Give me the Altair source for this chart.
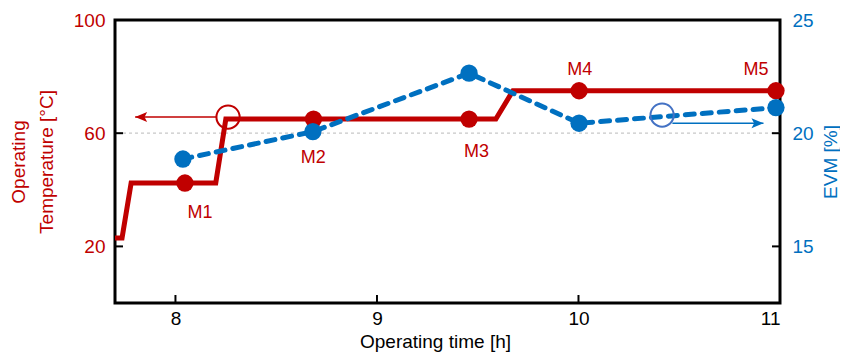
import altair as alt
import pandas as pd

# ---------------- data ----------------
x_domain = [7.7, 11.0]
temp_domain = [0, 100]
evm_domain = [12.5, 25]
x_ticks = [8, 9, 10, 11]
temp_ticks = [20, 60, 100]
evm_ticks = [15, 20, 25]

# operating temperature profile (step-like)
line_time = [7.70, 7.735, 7.78, 8.20, 8.25, 9.59, 9.675, 11.0]
line_temp = [23, 23, 42.4, 42.4, 65, 65, 75, 75]

# measurement points
marker_names = ["M1", "M2", "M3", "M4", "M5"]
marker_time = [8.047, 8.685, 9.457, 10.003, 10.98]
marker_temp = [42.4, 65, 65, 75, 75]
label_time = [8.122, 8.684, 9.494, 10.006, 10.881]
label_temp = [31.8, 51.2, 53.4, 82.3, 82.3]

# EVM
evm_time = [8.037, 8.682, 9.457, 10.003, 10.98]
evm_values = [18.86, 20.07, 22.65, 20.44, 21.13]

# annotations (circle + arrow pointing to the relevant axis)
red_circle = {"t": [8.261], "v": [65.7]}
red_arrow = {"t": [8.203, 7.80], "v": [65.7, 65.7]}
blue_circle = {"t": [10.415], "v": [20.80]}
blue_arrow = {"t": [10.466, 10.918], "v": [20.44, 20.44]}
grid_temp = [60]

RED = "#C00000"
BLUE = "#0070C0"
CIRCLE_BLUE = "#4472C4"
FONT = "Liberation Sans"

xs = alt.Scale(domain=x_domain, nice=False, zero=False)
ys_l = alt.Scale(domain=temp_domain, nice=False, zero=False)
ys_r = alt.Scale(domain=evm_domain, nice=False, zero=False)

x_axis = alt.Axis(values=x_ticks, title="Operating time [h]", grid=False, ticks=False,
                  domain=False, labelFontSize=19, labelColor="black", labelPadding=6,
                  titleFontSize=19, titleFontWeight="normal", titleColor="black",
                  titleX=320, titleY=44, titleBaseline="alphabetic", labelFont=FONT, titleFont=FONT)
l_axis = alt.Axis(values=temp_ticks, orient="left", title=["Operating", "Temperature [°C]"],
                  grid=False, ticks=False, domain=False, labelFontSize=19, labelColor=RED,
                  labelPadding=10, titleFontSize=19, titleFontWeight="normal", titleColor=RED,
                  titleAngle=270, titleX=-97, titleY=141.5, titleAlign="center",
                  titleBaseline="middle", titleLineHeight=28, labelFont=FONT, titleFont=FONT)
r_axis = alt.Axis(values=evm_ticks, orient="right", title="EVM [%]", grid=False, ticks=False,
                  domain=False, labelFontSize=19, labelColor=BLUE, labelPadding=12,
                  titleFontSize=19, titleFontWeight="normal", titleColor=BLUE,
                  titleAngle=270, titleX=50, titleY=141.5, titleAlign="center",
                  titleBaseline="middle", labelFont=FONT, titleFont=FONT)

def X():
    return alt.X("t:Q", scale=xs, axis=x_axis)

def YL():
    return alt.Y("v:Q", scale=ys_l, axis=l_axis)

def YR():
    return alt.Y("v:Q", scale=ys_r, axis=r_axis)

df_line = pd.DataFrame({"t": line_time, "v": line_temp})
df_mark = pd.DataFrame({"t": marker_time, "v": marker_temp, "name": marker_names})
df_lab = pd.DataFrame({"t": label_time, "v": label_temp, "name": marker_names})
df_evm = pd.DataFrame({"t": evm_time, "v": evm_values})
df_grid = pd.DataFrame({"v": grid_temp})

LEFT_HEAD = "M0,0 L1,-0.42 L0.78,0 L1,0.42 Z"
RIGHT_HEAD = "M0,0 L-1,-0.42 L-0.78,0 L-1,0.42 Z"

grid = alt.Chart(df_grid).mark_rule(color="#c8c8c8", strokeDash=[3, 3], strokeWidth=1.2).encode(y=YL())
red_line = alt.Chart(df_line).mark_line(color=RED, strokeWidth=5, strokeJoin="miter").encode(x=X(), y=YL())
red_pts = alt.Chart(df_mark).mark_point(filled=True, color=RED, size=300, opacity=1).encode(x=X(), y=YL())
red_txt = alt.Chart(df_lab).mark_text(color=RED, fontSize=18, font=FONT, baseline="middle").encode(
    x=X(), y=YL(), text="name:N")
rc = alt.Chart(pd.DataFrame(red_circle)).mark_point(shape="circle", filled=False, color=RED,
                                                   size=540, strokeWidth=2, opacity=1).encode(x=X(), y=YL())
ra = alt.Chart(pd.DataFrame(red_arrow)).mark_line(color=RED, strokeWidth=1.6).encode(x=X(), y=YL())
rah = alt.Chart(pd.DataFrame({"t": red_arrow["t"][1:], "v": red_arrow["v"][1:]})).mark_point(
    shape=LEFT_HEAD, filled=True, color=RED, size=576, opacity=1).encode(x=X(), y=YL())

# inward ticks
l_ticks = alt.Chart(pd.DataFrame({"t": [x_domain[0]] * len(temp_ticks), "v": temp_ticks})).mark_point(
    shape="M0,0 L1,0", filled=False, color="black", strokeWidth=2, size=256, opacity=1).encode(x=X(), y=YL())
b_ticks = alt.Chart(pd.DataFrame({"t": x_ticks, "v": [temp_domain[0]] * len(x_ticks)})).mark_point(
    shape="M0,0 L0,-1", filled=False, color="black", strokeWidth=2, size=256, opacity=1).encode(x=X(), y=YL())

left_layer = alt.layer(grid, red_line, red_pts, red_txt, rc, ra, rah, l_ticks, b_ticks)

blue_line = alt.Chart(df_evm).mark_line(color=BLUE, strokeWidth=5, strokeDash=[9, 8],
                                       strokeCap="round").encode(x=X(), y=YR())
blue_pts = alt.Chart(df_evm).mark_point(filled=True, color=BLUE, size=300, opacity=1).encode(x=X(), y=YR())
bc = alt.Chart(pd.DataFrame(blue_circle)).mark_point(shape="circle", filled=False, color=CIRCLE_BLUE,
                                                    size=540, strokeWidth=2, opacity=1).encode(x=X(), y=YR())
ba = alt.Chart(pd.DataFrame(blue_arrow)).mark_line(color=BLUE, strokeWidth=1.6).encode(x=X(), y=YR())
bah = alt.Chart(pd.DataFrame({"t": blue_arrow["t"][1:], "v": blue_arrow["v"][1:]})).mark_point(
    shape=RIGHT_HEAD, filled=True, color=BLUE, size=576, opacity=1).encode(x=X(), y=YR())
r_ticks = alt.Chart(pd.DataFrame({"t": [x_domain[1]] * len(evm_ticks), "v": evm_ticks})).mark_point(
    shape="M0,0 L-1,0", filled=False, color="black", strokeWidth=2, size=256, opacity=1).encode(x=X(), y=YR())

right_layer = alt.layer(blue_line, blue_pts, bc, ba, bah, r_ticks)

chart = alt.layer(left_layer, right_layer).resolve_scale(y="independent").properties(
    width=665, height=283,
    background="white",
    autosize=alt.AutoSizeParams(type="none"),
    padding={"left": 107, "top": 12, "right": 60, "bottom": 49},
).configure_view(stroke="black", strokeWidth=3)

chart.save("out.html", embed_options={"renderer": "svg", "actions": False})
